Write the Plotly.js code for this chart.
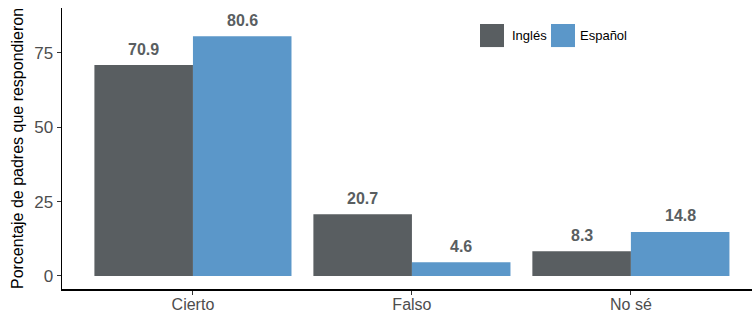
<!DOCTYPE html>
<html><head><meta charset="utf-8">
<script src="https://cdn.plot.ly/plotly-3.0.1.min.js"></script>
<style>html,body{margin:0;padding:0;background:#fff}#c{width:752px;height:314px}</style>
</head><body><div id="c"></div>
<script>
const categories = ["Cierto", "Falso", "No sé"];
const ingles = [70.9, 20.7, 8.3];
const espanol = [80.6, 4.6, 14.8];
const seriesNames = ["Inglés", "Español"];
const colors = ["#595e61", "#5b97c9"];

const traces = [
  {type:"bar", name:seriesNames[0], x:categories, y:ingles, marker:{color:colors[0]}, hoverinfo:"none", showlegend:false},
  {type:"bar", name:seriesNames[1], x:categories, y:espanol, marker:{color:colors[1]}, hoverinfo:"none", showlegend:false}
];
const annotations = [];
[ingles, espanol].forEach((vals, s) => {
  vals.forEach((v, i) => {
    annotations.push({x:i + (s === 0 ? -0.225 : 0.225), y:v, xref:"x", yref:"y", text:"<b>"+v.toFixed(1)+"</b>",
      showarrow:false, yshift:16, font:{family:"Liberation Sans, Arial", size:16, color:"#595e61"}});
  });
});
// manual legend (keys are larger than Plotly's native legend symbols)
const legendKeys = [
  {x0:0.6058, x1:0.6406, tx:0.6493},
  {x0:0.7087, x1:0.7435, tx:0.7478}
];
const shapes = [];
legendKeys.forEach((k, s) => {
  shapes.push({type:"rect", xref:"paper", yref:"paper", x0:k.x0, x1:k.x1, y0:0.861, y1:0.943,
    fillcolor:colors[s], line:{width:0}});
  annotations.push({xref:"paper", yref:"paper", x:k.tx, y:0.902, xanchor:"left", yanchor:"middle",
    text:seriesNames[s], showarrow:false, font:{family:"Liberation Sans, Arial", size:13, color:"#000"}});
});
const layout = {
  width:752, height:314,
  margin:{l:62, r:0, t:8, b:25},
  paper_bgcolor:"#fff", plot_bgcolor:"#fff",
  barmode:"group", bargap:0.1, bargroupgap:0,
  font:{family:"Liberation Sans, Arial", size:14, color:"#4d4d4d"},
  xaxis:{range:[-0.598, 2.553], showline:true, linecolor:"#000", linewidth:1.5, ticks:"outside", ticklen:4, tickcolor:"#333",
    showgrid:false, zeroline:false, tickfont:{size:16, color:"#4d4d4d"}, ticklabelstandoff:-4},
  yaxis:{range:[-4.4, 90.1], showline:true, linecolor:"#000", linewidth:1.5, ticks:"outside", ticklen:4, tickcolor:"#333",
    tickvals:[0,25,50,75], showgrid:false, zeroline:false, tickfont:{size:17, color:"#4d4d4d"},
    title:{text:"Porcentaje de padres que respondieron", font:{size:16, color:"#000"}, standoff:6}},
  annotations:annotations,
  shapes:shapes,
  showlegend:false
};
Plotly.newPlot("c", traces, layout, {displayModeBar:false, staticPlot:true});
</script></body></html>
